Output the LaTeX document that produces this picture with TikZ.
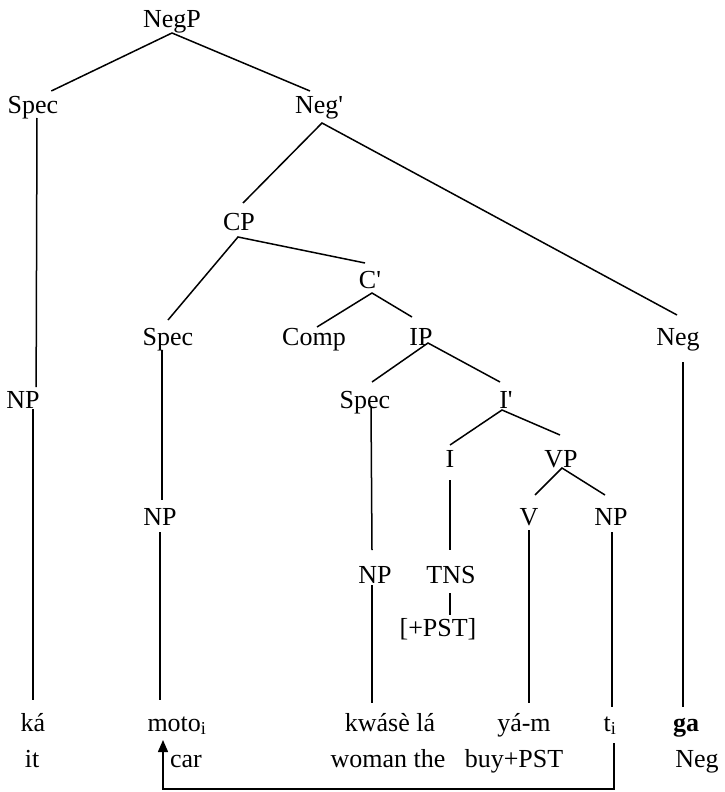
\documentclass[tikz,border=0pt]{standalone}
\usepackage{fontspec}
\setmainfont{Liberation Serif}
\usetikzlibrary{arrows.meta}

\begin{document}
\begin{tikzpicture}[x=1pt,y=-1pt,line width=1.5pt,
    lbl/.style={anchor=base,inner sep=0pt,outer sep=0pt,
      text height=17pt,text depth=5pt,font=\fontsize{26}{31}\selectfont}]
  \useasboundingbox (0,0) rectangle (725,792);
  % tree labels
  \node[lbl] (negp) at (172,28) {NegP};
  \node[lbl] (speca) at (33,113) {Spec};
  \node[lbl] (negb) at (319,113) {Neg\textquotesingle};
  \node[lbl] (cp) at (239,230) {CP};
  \node[lbl] (cb) at (370,288) {C\textquotesingle};
  \node[lbl] (specb) at (168,345) {Spec};
  \node[lbl] (comp) at (314,345) {Comp};
  \node[lbl] (ip) at (421,345) {IP};
  \node[lbl] (neg) at (678,345) {Neg};
  \node[lbl] (npa) at (23,408) {NP};
  \node[lbl] (specc) at (365,408) {Spec};
  \node[lbl] (ib) at (506,408) {I\textquotesingle};
  \node[lbl] (i) at (450,467) {I};
  \node[lbl] (vp) at (561,467) {VP};
  \node[lbl] (npm) at (160,525) {NP};
  \node[lbl] (v) at (529,525) {V};
  \node[lbl] (npv) at (611,525) {NP};
  \node[lbl] (nps) at (375,583) {NP};
  \node[lbl] (tns) at (451,583) {TNS};
  \node[lbl] (pst) at (438,636) {[+PST]};
  % words and glosses
  \node[lbl] (ka) at (33,731) {ká};
  \node[lbl] (moto) at (177,731) {moto\textsubscript{i}};
  \node[lbl] (kwase) at (390,731) {kwásè lá};
  \node[lbl] (yam) at (524,731) {yá-m};
  \node[lbl] (ti) at (610,731) {t\textsubscript{i}};
  \node[lbl] (ga) at (686,731) {\textbf{ga}};
  \node[lbl] (it) at (32,767) {it};
  \node[lbl] (car) at (186,767) {car};
  \node[lbl] (woman) at (388,767) {woman the};
  \node[lbl] (buy) at (514,767) {buy+PST};
  \node[lbl] (negg) at (697,767) {Neg};

  \draw ([xshift=-7pt,yshift=5pt]speca.north east) -- (negp.south)
    -- ([xshift=-9pt,yshift=5pt]negb.north);
  \draw ([xshift=4pt]speca.south) -- ([xshift=-3.5pt,yshift=4pt]npa.north east);
  \draw ([xshift=10pt,yshift=4pt]npa.south) -- ([yshift=14pt]ka.north);
  \draw ([xshift=4pt,yshift=10pt]cp.north) -- ([xshift=3pt,yshift=-5pt]negb.south)
    -- ([xshift=-1pt,yshift=13pt]neg.north);
  \draw ([yshift=8pt]specb.north) -- ([xshift=-1pt,yshift=-2pt]cp.south)
    -- ([xshift=-5pt,yshift=8pt]cb.north);
  \draw ([xshift=3pt,yshift=1pt]comp.north) -- ([xshift=2pt]cb.south)
    -- ([xshift=-9pt,yshift=11pt]ip.north);
  \draw ([xshift=-6pt]specb.south) -- ([xshift=2pt,yshift=8pt]npm.north);
  \draw ([yshift=-2pt]npm.south) -- ([xshift=-17pt,yshift=14pt]moto.north);
  \draw ([xshift=5pt,yshift=-12pt]neg.south) -- ([xshift=-3pt,yshift=7pt]ga.north);
  \draw ([xshift=7pt,yshift=9pt]specc.north) -- ([xshift=7pt,yshift=7pt]ip.south)
    -- ([xshift=-6pt,yshift=9pt]ib.north);
  \draw ([xshift=6pt,yshift=6pt]specc.south) -- ([xshift=-3pt,yshift=16pt]nps.north);
  \draw ([xshift=-3pt,yshift=3pt]nps.south) -- ([xshift=-18pt,yshift=11pt]kwase.north);
  \draw ([yshift=5pt]i.north) -- ([xshift=-4pt,yshift=3pt]ib.south)
    -- ([xshift=-1pt,yshift=15pt]vp.north);
  \draw ([yshift=-8pt]i.south) -- ([xshift=-1pt,yshift=16pt]tns.north);
  \draw ([xshift=-1pt,yshift=-5pt]tns.south) -- ([xshift=12pt,yshift=4pt]pst.north);
  \draw ([xshift=6pt,yshift=13pt]v.north) -- ([xshift=1pt,yshift=4pt]vp.south)
    -- ([xshift=-6pt,yshift=13pt]npv.north);
  \draw (v.south) -- ([xshift=5pt,yshift=11pt]yam.north);
  \draw ([xshift=1pt,yshift=-2pt]npv.south) -- ([xshift=2pt,yshift=7pt]ti.north);

  % trace movement
  \coordinate (bend) at (163,789);
  \draw[-{Triangle[length=12pt,width=10pt]}] ([xshift=4pt,yshift=-7pt]ti.south)
    |- (bend) -- ([xshift=-14pt,yshift=-4pt]moto.south);
\end{tikzpicture}
\end{document}
